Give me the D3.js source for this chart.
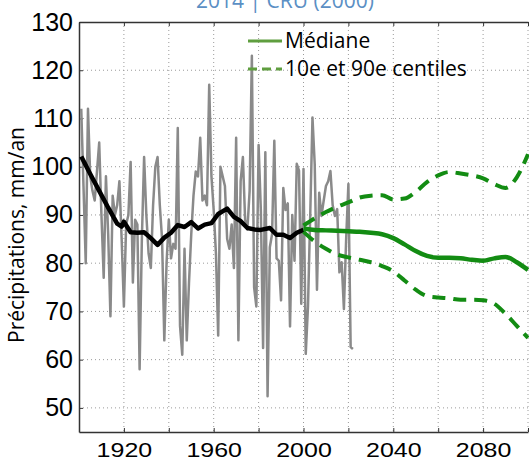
<!DOCTYPE html>
<html>
<head>
<meta charset="utf-8">
<script src="https://cdn.jsdelivr.net/npm/d3@7"></script>
<style>
  body { margin: 0; background: #fff; }
  svg { display: block; }
</style>
</head>
<body>
<svg></svg>
<script>
// observed annual precipitation (grey)
const obsYears = d3.range(1901, 2023);
const obsValues = [
  112, 96, 80, 112, 98, 95, 93, 99, 105, 90,
  77, 98, 86, 69, 94, 90, 92, 97, 85, 71,
  88, 90, 101, 76, 89, 88, 58, 85, 102, 90,
  82, 79, 92, 100, 102, 92, 85, 64, 80, 89,
  81, 84, 83, 108, 67, 61, 83, 64, 76, 86,
  94, 99, 98, 106, 93, 94, 92, 117, 98, 91,
  82, 65, 100, 98, 96, 85, 83, 88, 79, 106,
  64, 97, 102, 89, 87, 95, 123, 75, 71, 104.5,
  91, 62.4, 103, 52.4, 83.3, 86, 105.4, 81, 80.5, 72.3,
  95.6, 91, 92.4, 66.9, 90, 80.5, 100.6, 99.2, 71.6, 99.5,
  61.2, 71.1, 90, 110.2, 100.5, 74.5, 94.6, 89.8, 93, 96,
  97, 99.1, 92, 89.8, 91.2, 78.1, 80.2, 70.5, 85, 96.4,
  62.6, 62.2
];

// smoothed observations (black)
const smoothYears = [1901, 1905, 1909, 1913, 1917, 1919, 1920, 1923, 1926, 1929, 1932, 1935, 1938, 1941,
  1944, 1947, 1950, 1953, 1956, 1959, 1962, 1966, 1969, 1972, 1975, 1978, 1981, 1985, 1988,
  1991, 1994, 1997, 2000];
const smoothValues = [102.1, 98.5, 95, 91.5, 88.2, 87.6, 88.6, 86.4, 86.3, 86.4, 85.2, 83.8, 85.3, 86.3,
  87.9, 87.5, 88.5, 87.2, 88, 88.3, 90.2, 91.3, 89.6, 88.7, 87.3, 87, 86.9, 87.3, 85.9,
  85.9, 85.2, 86.3, 86.9];

// projections (green)
const futureYears = d3.range(2000, 2101, 5);
const medianValues = [87.2, 86.9, 86.8, 86.7, 86.6, 86.5, 86.3, 86.0, 85.2, 83.9, 82.5,
  81.5, 81.1, 81.1, 81.0, 80.7, 80.5, 81.0, 81.3, 80.2, 78.6];
const p90Values = [87.8, 89.3, 90.6, 91.7, 92.6, 93.6, 94.0, 94.1, 93.2, 93.4, 94.8,
  96.8, 98.2, 98.9, 98.6, 98.2, 97.6, 96.4, 95.6, 97.8, 102.6];
const p10Values = [86.5, 84.5, 83.0, 81.8, 81.2, 80.7, 80.2, 79.4, 78.3, 76.4, 74.5,
  73.2, 72.9, 72.7, 72.4, 72.4, 72.3, 71.6, 69.5, 67.0, 64.5];

const xTicks = d3.range(1900, 2101, 20);
const yTicks = d3.range(50, 131, 10);
const legendLabels = ["Médiane", "10e et 90e centiles"];
const title = "2014 | CRU (2000)";

const width = 529, height = 461;
const svg = d3.select("svg").attr("width", width).attr("height", height);

const x = d3.scaleLinear().domain([1900, 2100]).range([79, 528]);
const y = d3.scaleLinear().domain([45, 130]).range([432, 22]);

const green = "#138c13";
const numFont = "'Liberation Sans', Arial, sans-serif";
const textFont = "'Open Sans', 'Noto Sans', sans-serif";

// title (cut at top)
svg.append("text")
  .attr("x", 285).attr("y", 8)
  .attr("text-anchor", "middle")
  .attr("font-family", textFont).attr("font-size", 21)
  .attr("fill", "#5b8fc4")
  .text(title);

// grid
const grid = svg.append("g")
  .attr("stroke", "#9a9a9a").attr("stroke-width", 1).attr("stroke-dasharray", "1,3");
grid.selectAll(".gx").data(xTicks.filter(d => d > 1900))
  .join("line")
  .attr("x1", d => x(d)).attr("x2", d => x(d))
  .attr("y1", y(130)).attr("y2", y(45));
grid.selectAll(".gy").data(yTicks.filter(d => d < 130))
  .join("line")
  .attr("x1", x(1900)).attr("x2", width)
  .attr("y1", d => y(d)).attr("y2", d => y(d));

// axes
const xAxis = svg.append("g")
  .attr("transform", `translate(0,${y(45)})`)
  .call(d3.axisBottom(x).tickValues(xTicks).tickSize(-4).tickSizeOuter(0)
    .tickFormat(d => (d % 40 === 0 ? d : "")));
xAxis.selectAll("text")
  .attr("y", null).attr("dy", null)
  .attr("transform", "translate(0,25) scale(1,0.78)")
  .attr("font-size", 25).attr("font-family", numFont).attr("fill", "#000");

svg.append("g")
  .attr("transform", `translate(0,${y(130)})`)
  .call(d3.axisTop(x).tickValues(xTicks).tickSize(-4).tickSizeOuter(0).tickFormat(""));

const yAxis = svg.append("g")
  .attr("transform", `translate(${x(1900)},0)`)
  .call(d3.axisLeft(y).tickValues(yTicks).tickSize(-4).tickSizeOuter(0).tickPadding(6));
yAxis.selectAll("text")
  .attr("font-size", 25).attr("font-family", numFont).attr("fill", "#000");

svg.selectAll(".domain").attr("stroke", "#333").attr("stroke-width", 1.5);
svg.selectAll(".tick line").attr("stroke", "#333");

// y title
svg.append("text")
  .attr("transform", `translate(24,${(y(130) + y(45)) / 2 + 8}) rotate(-90)`)
  .attr("text-anchor", "middle")
  .attr("font-family", textFont).attr("font-size", 21)
  .text("Précipitations, mm/an");

// clip
svg.append("clipPath").attr("id", "clip")
  .append("rect").attr("x", x(1900)).attr("y", y(130))
  .attr("width", width - x(1900)).attr("height", y(45) - y(130));
const plot = svg.append("g").attr("clip-path", "url(#clip)");

const line = d3.line().x(d => x(d[0])).y(d => y(d[1]));

plot.append("path")
  .datum(obsYears.map((yr, i) => [yr, obsValues[i]]))
  .attr("fill", "none").attr("stroke", "#8a8a8a").attr("stroke-width", 2.5)
  .attr("stroke-linejoin", "round")
  .attr("d", line);

plot.append("path")
  .datum(smoothYears.map((yr, i) => [yr, smoothValues[i]]))
  .attr("fill", "none").attr("stroke", "#000").attr("stroke-width", 4.5)
  .attr("stroke-linejoin", "round")
  .attr("d", line);

const smooth = d3.line().curve(d3.curveMonotoneX).x(d => x(d[0])).y(d => y(d[1]));

[p90Values, p10Values].forEach(vals => {
  plot.append("path")
    .datum(futureYears.map((yr, i) => [yr, vals[i]]))
    .attr("fill", "none").attr("stroke", green).attr("stroke-width", 4)
    .attr("stroke-dasharray", "13,8")
    .attr("d", smooth);
});

plot.append("path")
  .datum(futureYears.map((yr, i) => [yr, medianValues[i]]))
  .attr("fill", "none").attr("stroke", green).attr("stroke-width", 4.5)
  .attr("d", smooth);

// legend
const legend = svg.append("g");
legendLabels.forEach((lab, i) => {
  const ly = 41 + i * 28;
  legend.append("line")
    .attr("x1", 248).attr("x2", 282).attr("y1", ly).attr("y2", ly)
    .attr("stroke", "#5f9e3f").attr("stroke-width", 3)
    .attr("stroke-dasharray", i === 1 ? "9,5" : null);
  legend.append("text")
    .attr("x", 285).attr("y", ly + 7)
    .attr("font-family", textFont).attr("font-size", 21)
    .text(lab);
});
</script>
</body>
</html>
